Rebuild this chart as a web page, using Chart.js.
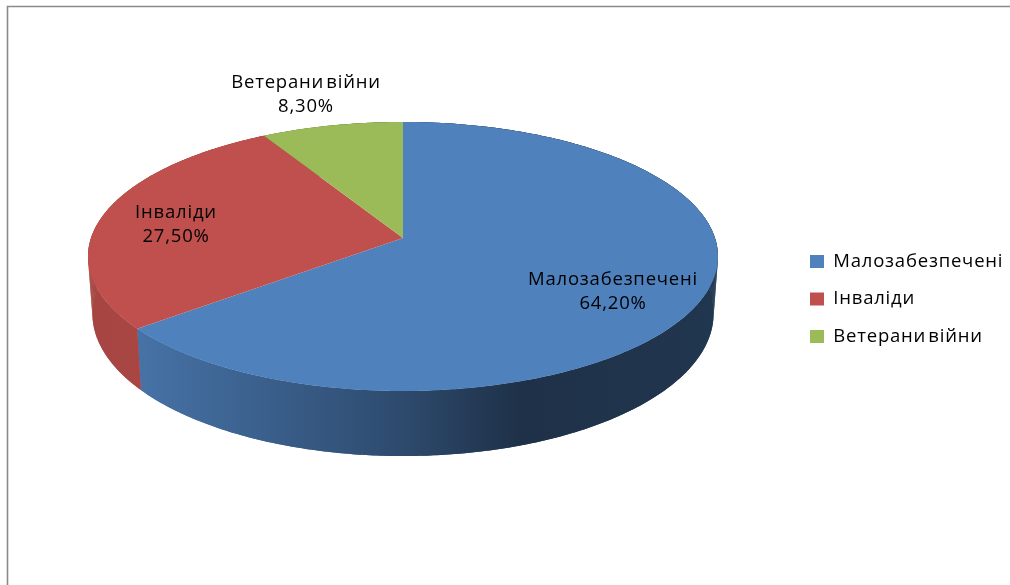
<!DOCTYPE html>
<html>
<head>
<meta charset="utf-8">
<style>
  html, body { margin: 0; padding: 0; background: #fff; }
  canvas { display: block; }
</style>
<script src="https://cdn.jsdelivr.net/npm/chart.js@4/dist/chart.umd.min.js"></script>
</head>
<body>
<canvas id="pie" width="1010" height="585"></canvas>
<script>
const categories = ["Малозабезпечені", "Інваліди", "Ветерани війни"];
const values = [64.2, 27.5, 8.3];
const colors = ["#4f81bd", "#c0504d", "#9bbb59"];

const fontFamily = "'Open Sans', sans-serif";
const fontSize = 18.5;

// the pie is tilted, so the rim goes through a perspective mapping of the unit circle
const top3d = { cx: 403, cy: 238, ratio: 0.423, k: 0.1375, scale: 1 };
const low3d = { cx: 403, cy: 294, ratio: 0.448, k: 0.1375, scale: 0.986 };

// centre of each two line data label
const labelCenters = [[613, 292], [176, 225], [306, 95]];

// wall darkness against x
const wallShade = [[88, 0.86], [141, 0.88], [300, 0.7], [400, 0.58], [520, 0.38], [720, 0.42]];

function project(p, R, angle) {
  const u = Math.cos(angle);
  const v = -Math.sin(angle);
  const d = 1 + p.k * v;
  return [p.cx + R * p.scale * u / d, p.cy - R * p.ratio * v / d];
}

function shadeColor(hex, f) {
  const n = parseInt(hex.slice(1), 16);
  const r = Math.round(((n >> 16) & 255) * f);
  const g = Math.round(((n >> 8) & 255) * f);
  const b = Math.round((n & 255) * f);
  return `rgb(${r},${g},${b})`;
}

function traceRim(ctx, p, R, from, to) {
  const steps = Math.max(2, Math.ceil(Math.abs(to - from) / 0.01));
  for (let i = 0; i <= steps; i++) {
    const pt = project(p, R, from + (to - from) * i / steps);
    ctx.lineTo(pt[0], pt[1]);
  }
}

function fillWall(ctx, arc, style) {
  const R = arc.outerRadius;
  ctx.fillStyle = style;
  ctx.beginPath();
  traceRim(ctx, top3d, R, arc.startAngle, arc.endAngle);
  traceRim(ctx, low3d, R, arc.endAngle, arc.startAngle);
  ctx.closePath();
  ctx.fill();
  // small quads as well, they close the gap at the silhouette on both sides
  const steps = Math.ceil((arc.endAngle - arc.startAngle) / 0.02);
  for (let i = 0; i < steps; i++) {
    const a0 = arc.startAngle + (arc.endAngle - arc.startAngle) * i / steps;
    const a1 = arc.startAngle + (arc.endAngle - arc.startAngle) * (i + 1) / steps;
    const p = [project(top3d, R, a0), project(top3d, R, a1), project(low3d, R, a1), project(low3d, R, a0)];
    ctx.beginPath();
    p.forEach(q => ctx.lineTo(q[0], q[1]));
    ctx.closePath();
    ctx.fill();
  }
}

const pie3d = {
  id: "pie3d",
  afterLayout(chart) {
    // legend sits closer to the right edge than its padding would allow
    chart.legend.left = 791;
  },
  beforeDraw(chart) {
    const ctx = chart.ctx;
    ctx.save();
    ctx.strokeStyle = "#8a8a8a";
    ctx.lineWidth = 1.6;
    ctx.beginPath();
    ctx.moveTo(7.5, 585);
    ctx.lineTo(7.5, 6.5);
    ctx.lineTo(1010, 6.5);
    ctx.stroke();
    ctx.restore();
    // the reference text runs wide, this carries into the legend too
    ctx.letterSpacing = "0.8px";
    ctx.wordSpacing = "-3.5px";
  },
  beforeDatasetsDraw(chart) {
    const ctx = chart.ctx;
    const arcs = chart.getDatasetMeta(0).data;
    ctx.save();

    arcs.forEach((arc, i) => {
      const grad = ctx.createLinearGradient(88, 0, 720, 0);
      wallShade.forEach(s => grad.addColorStop((s[0] - 88) / 632, shadeColor(colors[i], s[1])));
      fillWall(ctx, arc, grad);
    });

    arcs.forEach((arc, i) => {
      ctx.beginPath();
      ctx.moveTo(top3d.cx, top3d.cy);
      traceRim(ctx, top3d, arc.outerRadius, arc.startAngle, arc.endAngle);
      ctx.closePath();
      ctx.fillStyle = colors[i];
      ctx.fill();
    });

    ctx.restore();
    return false;
  },
  afterDraw(chart) {
    const ctx = chart.ctx;
    ctx.save();
    ctx.font = `${fontSize}px ${fontFamily}`;
    ctx.fillStyle = "#000";
    ctx.textAlign = "center";
    ctx.textBaseline = "middle";
    categories.forEach((name, i) => {
      const c = labelCenters[i];
      ctx.fillText(name, c[0], c[1] - 12);
      ctx.fillText(values[i].toFixed(2).replace(".", ",") + "%", c[0], c[1] + 12);
    });
    ctx.restore();
  }
};

new Chart(document.getElementById("pie"), {
  type: "pie",
  data: {
    labels: categories,
    datasets: [{ data: values, backgroundColor: colors, borderWidth: 0 }]
  },
  options: {
    responsive: false,
    animation: false,
    radius: 312,
    layout: { padding: { top: 13 } },
    plugins: {
      tooltip: { enabled: false },
      legend: {
        position: "right",
        labels: {
          boxWidth: 14,
          boxHeight: 13,
          padding: 19,
          color: "#000",
          font: { family: fontFamily, size: fontSize }
        }
      }
    }
  },
  plugins: [pie3d]
});
</script>
</body>
</html>
